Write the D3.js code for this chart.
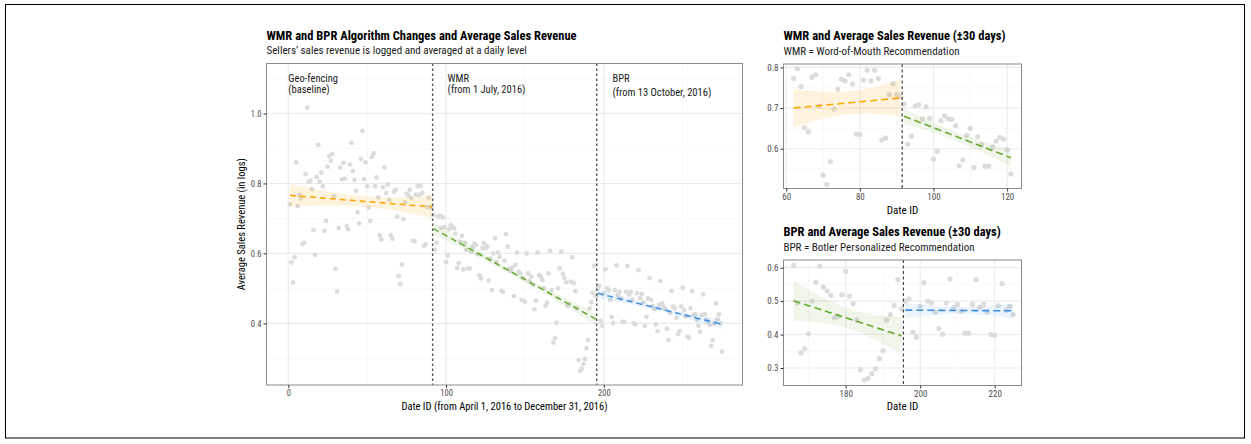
<!DOCTYPE html>
<html>
<head>
<meta charset="utf-8">
<script src="https://cdn.jsdelivr.net/npm/d3@7"></script>
<style>
  body { margin: 0; background: #fff; }
  text { font-family: "Roboto Condensed", "Liberation Sans Narrow", "DejaVu Sans Condensed", Roboto, sans-serif; }
</style>
</head>
<body>
<svg id="chart" width="1251" height="444"></svg>
<script>
// daily average revenue (logs)
const baselineStart = 1;
const baselineRevenue = [
  0.740,0.574,0.517,0.589,0.860,0.735,0.767,0.757,0.627,0.630,
  0.827,1.017,0.805,0.808,0.784,0.667,0.596,0.818,0.910,0.805,
  0.831,0.792,0.664,0.693,0.848,0.879,0.865,0.884,0.764,0.556,
  0.491,0.672,0.845,0.812,0.859,0.814,0.678,0.669,0.854,0.916,
  0.835,0.810,0.779,0.717,0.686,0.870,0.950,0.812,0.860,0.792,
  0.731,0.693,0.876,0.886,0.792,0.817,0.760,0.652,0.640,0.789,
  0.846,0.773,0.797,0.753,0.652,0.642,0.776,0.782,0.705,0.535,
  0.512,0.568,0.698,0.746,0.771,0.767,0.782,0.759,0.636,0.635,
  0.769,0.793,0.767,0.793,0.773,0.622,0.626,0.733,0.760,0.733,
  0.730];
const wmrStart = 92;
const wmrRevenue = [
  0.710,0.611,0.631,0.705,0.708,0.673,0.703,0.675,0.575,0.594,
  0.669,0.681,0.674,0.672,0.657,0.558,0.572,0.633,0.650,0.554,
  0.630,0.610,0.557,0.557,0.604,0.619,0.628,0.624,0.598,0.538,
  0.529,0.615,0.629,0.614,0.620,0.522,0.585,0.495,0.600,0.643,
  0.575,0.602,0.590,0.493,0.490,0.579,0.655,0.619,0.556,0.550,
  0.560,0.478,0.567,0.602,0.548,0.543,0.467,0.530,0.462,0.600,
  0.543,0.520,0.533,0.510,0.440,0.465,0.602,0.538,0.533,0.524,
  0.500,0.450,0.459,0.543,0.607,0.495,0.345,0.358,0.402,0.500,
  0.557,0.605,0.542,0.530,0.517,0.450,0.455,0.519,0.589,0.515,
  0.492,0.443,0.295,0.264,0.270,0.283,0.298,0.328,0.352,0.443,
  0.460,0.487,0.564,0.477];
const bprStart = 196;
const bprRevenue = [
  0.500,0.507,0.407,0.393,0.485,0.555,0.500,0.495,0.467,0.418,
  0.401,0.494,0.566,0.481,0.490,0.470,0.404,0.404,0.490,0.564,
  0.482,0.490,0.468,0.400,0.398,0.486,0.552,0.472,0.484,0.460,
  0.393,0.419,0.471,0.530,0.467,0.450,0.440,0.397,0.378,0.452,
  0.521,0.457,0.448,0.440,0.384,0.352,0.430,0.492,0.448,0.443,
  0.416,0.369,0.378,0.448,0.502,0.438,0.420,0.362,0.359,0.443,
  0.492,0.424,0.426,0.410,0.393,0.376,0.424,0.483,0.426,0.410,
  0.405,0.395,0.336,0.352,0.400,0.457,0.412,0.426,0.400,0.319];

// changes (date id where the new algorithm starts, minus half a day)
const changeDays = [91.5, 195.5];

// linear fits: [period, from, to, value at from, value at to, band half-width at from / middle / to]
const mainFits = [
  ["baseline", 1, 91, 0.766, 0.733, 0.032, 0.015, 0.031],
  ["wmr", 92, 195, 0.671, 0.412, 0.017, 0.007, 0.017],
  ["bpr", 196, 275, 0.486, 0.397, 0.013, 0.006, 0.013]
];
const wmrWindowFits = [
  ["baseline", 62, 91, 0.700, 0.725, 0.047, 0.028, 0.045],
  ["wmr", 92, 121, 0.680, 0.578, 0.019, 0.011, 0.021]
];
const bprWindowFits = [
  ["wmr", 166, 195, 0.501, 0.396, 0.059, 0.030, 0.055],
  ["bpr", 196, 225, 0.473, 0.471, 0.022, 0.010, 0.021]
];

const periodColor = { baseline: "#FFA500", wmr: "#68A832", bpr: "#3D8DE5" };
const periodBand = { baseline: "rgba(255,165,0,0.13)", wmr: "rgba(104,168,50,0.10)", bpr: "rgba(61,141,229,0.10)" };

const revenue = [
  ...baselineRevenue.map((v, i) => ({ day: baselineStart + i, v })),
  ...wmrRevenue.map((v, i) => ({ day: wmrStart + i, v })),
  ...bprRevenue.map((v, i) => ({ day: bprStart + i, v }))
];

const svg = d3.select("#chart");
svg.append("rect").attr("width", 1251).attr("height", 444).attr("fill", "#fff");
svg.append("rect").attr("x", 5.5).attr("y", 4.5).attr("width", 1239).attr("height", 433.5)
  .attr("fill", "none").attr("stroke", "#000").attr("stroke-width", 1);

function drawPanel(o) {
  const g = svg.append("g");
  const x = d3.scaleLinear().domain(o.xDomain).range([o.left, o.right]);
  const y = d3.scaleLinear().domain(o.yDomain).range([o.bottom, o.top]);

  // grid
  const grid = g.append("g");
  grid.selectAll(".xminor").data(o.xMinor).join("line")
    .attr("x1", d => x(d)).attr("x2", d => x(d)).attr("y1", o.top).attr("y2", o.bottom)
    .attr("stroke", "#F3F3F3").attr("stroke-width", 0.6);
  grid.selectAll(".yminor").data(o.yMinor).join("line")
    .attr("y1", d => y(d)).attr("y2", d => y(d)).attr("x1", o.left).attr("x2", o.right)
    .attr("stroke", "#F3F3F3").attr("stroke-width", 0.6);
  grid.selectAll(".xmajor").data(o.xMajor).join("line")
    .attr("x1", d => x(d)).attr("x2", d => x(d)).attr("y1", o.top).attr("y2", o.bottom)
    .attr("stroke", "#EBEBEB").attr("stroke-width", 1.1);
  grid.selectAll(".ymajor").data(o.yMajor).join("line")
    .attr("y1", d => y(d)).attr("y2", d => y(d)).attr("x1", o.left).attr("x2", o.right)
    .attr("stroke", "#EBEBEB").attr("stroke-width", 1.1);

  // points
  g.append("g").selectAll("circle")
    .data(revenue.filter(d => d.day >= o.days[0] && d.day <= o.days[1]))
    .join("circle")
    .attr("cx", d => x(d.day)).attr("cy", d => y(d.v)).attr("r", o.r)
    .attr("fill", "#DCDCDC");

  // fits with bands
  o.fits.forEach(([period, d0, d1, v0, v1, h0, hm, h1]) => {
    const samples = d3.range(0, 1.0001, 1 / 40).map(t => {
      const c = t - 0.5;
      const h = Math.sqrt(Math.max(0, hm * hm + (h1 * h1 - h0 * h0) * c + 2 * (h0 * h0 + h1 * h1 - 2 * hm * hm) * c * c));
      const v = v0 + (v1 - v0) * t;
      return { day: d0 + (d1 - d0) * t, v, lo: v - h, hi: v + h };
    });
    g.append("path").datum(samples)
      .attr("d", d3.area().x(d => x(d.day)).y0(d => y(d.lo)).y1(d => y(d.hi)))
      .attr("fill", periodBand[period]);
    g.append("path").datum(samples)
      .attr("d", d3.line().x(d => x(d.day)).y(d => y(d.v)))
      .attr("fill", "none").attr("stroke", periodColor[period])
      .attr("stroke-width", o.lineWidth).attr("stroke-dasharray", o.lineDash);
  });

  // algorithm change lines
  g.append("g").selectAll("line")
    .data(changeDays.filter(d => d > o.xDomain[0] && d < o.xDomain[1]))
    .join("line")
    .attr("x1", d => x(d)).attr("x2", d => x(d)).attr("y1", o.top).attr("y2", o.bottom)
    .attr("stroke", o.vColor).attr("stroke-width", o.vWidth).attr("stroke-dasharray", o.vDash);

  // border
  g.append("rect").attr("x", o.left).attr("y", o.top)
    .attr("width", o.right - o.left).attr("height", o.bottom - o.top)
    .attr("fill", "none").attr("stroke", "#8A8A8A").attr("stroke-width", 1);

  // axes
  const ax = g.append("g").attr("transform", `translate(0,${o.bottom})`)
    .call(d3.axisBottom(x).tickValues(o.xMajor).tickFormat(d3.format("d")).tickSize(3).tickPadding(2));
  const ay = g.append("g").attr("transform", `translate(${o.left},0)`)
    .call(d3.axisLeft(y).tickValues(o.yMajor).tickFormat(d3.format(".1f")).tickSize(3).tickPadding(2));
  [ax, ay].forEach(a => {
    a.attr("font-family", null);
    a.select(".domain").remove();
    a.selectAll(".tick line").attr("stroke", "#333");
    a.selectAll(".tick text").attr("fill", "#4D4D4D").attr("font-size", o.tickFont);
  });

  // titles
  svg.append("text").attr("x", o.left).attr("y", o.titleY)
    .attr("font-size", 12.5).attr("font-weight", "bold").attr("fill", "#000").text(o.title);
  svg.append("text").attr("x", o.left).attr("y", o.titleY + 14.5)
    .attr("font-size", 11).attr("fill", "#1A1A1A").text(o.subtitle);
  svg.append("text").attr("x", (o.left + o.right) / 2).attr("y", o.xTitleY)
    .attr("text-anchor", "middle").attr("font-size", o.axisFont).attr("fill", "#000").text(o.xTitle);
  if (o.yTitle) {
    svg.append("text")
      .attr("transform", `translate(${o.yTitleX},${(o.top + o.bottom) / 2}) rotate(-90)`)
      .attr("text-anchor", "middle").attr("font-size", o.axisFont).attr("fill", "#000").text(o.yTitle);
  }
  return { x, y };
}

const main = drawPanel({
  left: 266.5, right: 742.5, top: 63.5, bottom: 385,
  xDomain: [-13.8, 287.9], yDomain: [0.2237, 1.143],
  xMajor: [0, 100, 200], xMinor: [50, 150, 250],
  yMajor: [0.4, 0.6, 0.8, 1.0], yMinor: [0.3, 0.5, 0.7, 0.9, 1.1],
  days: [0, 300], fits: mainFits, r: 2.4,
  lineWidth: 1.5, lineDash: "6,4",
  vColor: "#555", vWidth: 1.4, vDash: "2.5,2.5",
  tickFont: 8.5, axisFont: 10.5,
  title: "WMR and BPR Algorithm Changes and Average Sales Revenue",
  subtitle: "Sellers\u2019 sales revenue is logged and averaged at a daily level",
  titleY: 39.5, xTitleY: 410,
  xTitle: "Date ID (from April 1, 2016 to December 31, 2016)",
  yTitle: "Average Sales Revenue (in logs)", yTitleX: 245
});

// period labels inside the main panel
const periodLabels = [
  [0, 81.5, ["Geo-fencing", "(baseline)"]],
  [101, 81.5, ["WMR", "(from 1 July, 2016)"]],
  [205.5, 81.5, ["BPR", "(from 13 October, 2016)"]]
];
const labelGap = [11.5, 11.5, 14];
periodLabels.forEach(([day, yPix, lines], i) => {
  const t = svg.append("text").attr("font-size", 10.5).attr("fill", "#1A1A1A");
  lines.forEach((s, k) => t.append("tspan").attr("x", main.x(day)).attr("y", yPix + k * labelGap[i]).text(s));
});

drawPanel({
  left: 783.5, right: 1021.5, top: 64, bottom: 188.5,
  xDomain: [59.27, 123.9], yDomain: [0.5022, 0.8084],
  xMajor: [60, 80, 100, 120], xMinor: [70, 90, 110],
  yMajor: [0.6, 0.7, 0.8], yMinor: [0.55, 0.65, 0.75],
  days: [62, 121], fits: wmrWindowFits, r: 2.6,
  lineWidth: 1.6, lineDash: "7,4",
  vColor: "#444", vWidth: 1.2, vDash: "3,2.5",
  tickFont: 9, axisFont: 11,
  title: "WMR and Average Sales Revenue (\u00B130 days)",
  subtitle: "WMR = Word-of-Mouth Recommendation",
  titleY: 40, xTitleY: 213.5, xTitle: "Date ID"
});

drawPanel({
  left: 783.5, right: 1021.5, top: 260, bottom: 385.5,
  xDomain: [163.3, 227.2], yDomain: [0.2477, 0.6229],
  xMajor: [180, 200, 220], xMinor: [170, 190, 210],
  yMajor: [0.3, 0.4, 0.5, 0.6], yMinor: [0.35, 0.45, 0.55],
  days: [166, 225], fits: bprWindowFits, r: 2.6,
  lineWidth: 1.6, lineDash: "7,4",
  vColor: "#444", vWidth: 1.2, vDash: "3,2.5",
  tickFont: 9, axisFont: 11,
  title: "BPR and Average Sales Revenue (\u00B130 days)",
  subtitle: "BPR = Botler Personalized Recommendation",
  titleY: 236, xTitleY: 410, xTitle: "Date ID"
});
</script>
</body>
</html>
